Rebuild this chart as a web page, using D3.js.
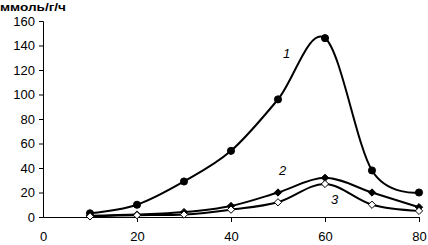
<!DOCTYPE html>
<html>
<head>
<meta charset="utf-8">
<script src="https://cdn.jsdelivr.net/npm/d3@7"></script>
<style>
body { margin: 0; background: #fff; }
text { font-family: "Liberation Sans", Arial, sans-serif; }
</style>
</head>
<body>
<div class="chart"></div>
<script>
const xValues = [10, 20, 30, 40, 50, 60, 70, 80];
const series1 = [3, 10, 29, 54, 96, 146, 38, 20];
const series2 = [1, 2, 4, 9, 20, 32, 20, 8];
const series3 = [0.5, 1.5, 2, 6, 12, 27, 10, 5];
const yTicks = [0, 20, 40, 60, 80, 100, 120, 140, 160];
const xTicks = [0, 20, 40, 60, 80];

const width = 428;
const height = 245;
const svg = d3.select('.chart')
	.append('svg')
	.attr('width', width)
	.attr('height', height)

const x = d3.scaleLinear().domain([0, 80]).range([43, 419]);
const y = d3.scaleLinear().domain([0, 160]).range([217, 21]);

// y axis
const yAxis = svg.append("g")
	.attr("transform", "translate(43,0)")
	.call(d3.axisLeft(y).tickValues(yTicks).tickSize(4).tickPadding(4).tickFormat(d3.format("d")))
yAxis.selectAll("text").attr("font-size", 13).attr("fill", "#000")
yAxis.select(".domain").attr("stroke", "#000").attr("stroke-width", 1)
yAxis.selectAll(".tick line").attr("stroke", "#000")

// x axis
const xAxis = svg.append("g")
	.attr("transform", "translate(0,217)")
	.call(d3.axisBottom(x).tickValues(xTicks).tickSize(5).tickPadding(10).tickSizeOuter(0))
xAxis.selectAll("text").attr("font-size", 13).attr("fill", "#000")
xAxis.select(".domain").attr("stroke", "#000")
xAxis.selectAll(".tick line").attr("stroke", "#000").attr("opacity", d => d == 0 ? 0 : 1)

svg.append("text")
	.attr("x", 0)
	.attr("y", 11)
	.attr("font-size", 11)
	.attr("font-weight", "bold")
	.attr("textLength", 66)
	.attr("lengthAdjust", "spacingAndGlyphs")
	.text("ммоль/г/ч")

const line = d3.line()
	.x((d, i) => x(xValues[i]))
	.y(d => y(d))
	.curve(d3.curveCardinal.tension(0))

function drawSeries(vals, marker, filled) {
	svg.append("path")
		.attr("d", line(vals))
		.attr("fill", "none")
		.attr("stroke", "#000")
		.attr("stroke-width", 2)

	const sym = d3.symbol().type(marker).size(marker == d3.symbolCircle ? 40 : 34)
	svg.selectAll(null)
	.data(vals)
	.enter()
	.append("path")
	.attr("d", sym)
	.attr("transform", (d, i) => `translate(${x(xValues[i])},${y(d)})`)
	.attr("fill", filled ? "#000" : "#fff")
	.attr("stroke", "#000")
	.attr("stroke-width", 1)
}

drawSeries(series1, d3.symbolCircle, true)
drawSeries(series2, d3.symbolDiamond2, true)
drawSeries(series3, d3.symbolDiamond2, false)

const labels = [["1", 283, 58], ["2", 279, 175], ["3", 331, 204]];
svg.selectAll(".lbl")
	.data(labels)
	.enter()
	.append("text")
	.attr("x", d => d[1])
	.attr("y", d => d[2])
	.attr("font-size", 13)
	.attr("font-style", "italic")
	.text(d => d[0])
</script>
</body>
</html>
